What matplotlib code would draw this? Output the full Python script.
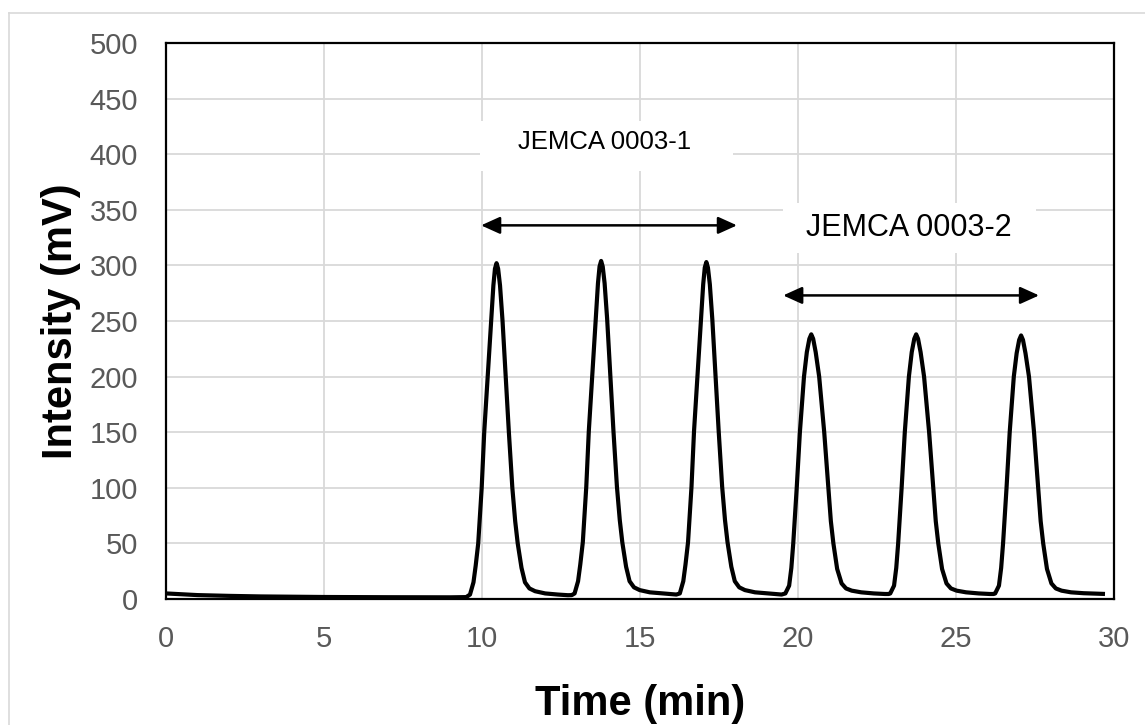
import matplotlib
matplotlib.use("Agg")
import matplotlib.pyplot as plt
from matplotlib.patches import Rectangle
from matplotlib.lines import Line2D

plt.rcParams['font.family'] = ['Liberation Sans', 'DejaVu Sans']

# chromatogram: time (min), intensity (mV)
time = [0.0, 0.5, 1.0, 2.0, 3.0, 5.0, 7.0, 9.0, 9.5,
	# peak 1
	9.62, 9.73, 9.80, 9.88, 9.99, 10.07, 10.18, 10.29, 10.36, 10.41, 10.46, 10.51, 10.57, 10.65,
	10.75, 10.85, 10.96, 11.05, 11.13, 11.25, 11.36, 11.50, 11.68, 12.00, 12.40, 12.72, 12.84,
	# peak 2
	12.93, 13.04, 13.11, 13.19, 13.30, 13.38, 13.49, 13.60, 13.67, 13.72, 13.77, 13.82, 13.88, 13.96,
	14.06, 14.16, 14.27, 14.36, 14.44, 14.56, 14.67, 14.81, 14.99, 15.31, 15.71, 16.03, 16.15,
	# peak 3
	16.26, 16.37, 16.44, 16.52, 16.63, 16.71, 16.82, 16.93, 17.00, 17.05, 17.10, 17.15, 17.21, 17.29,
	17.39, 17.49, 17.60, 17.69, 17.77, 17.89, 18.00, 18.14, 18.32, 18.64, 19.04, 19.36, 19.48,
	# peak 4
	19.60, 19.72, 19.79, 19.85, 19.96, 20.06, 20.19, 20.28, 20.36, 20.42, 20.48, 20.56, 20.67,
	20.83, 20.96, 21.04, 21.12, 21.24, 21.38, 21.52, 21.70, 22.00, 22.40, 22.75, 22.87,
	# peak 5
	22.92, 23.04, 23.11, 23.17, 23.28, 23.38, 23.51, 23.60, 23.68, 23.74, 23.80, 23.88, 23.99,
	24.15, 24.28, 24.36, 24.44, 24.56, 24.70, 24.84, 25.02, 25.32, 25.72, 26.07, 26.19,
	# peak 6
	26.24, 26.36, 26.43, 26.49, 26.60, 26.70, 26.83, 26.92, 27.00, 27.06, 27.12, 27.20, 27.31,
	27.47, 27.60, 27.68, 27.76, 27.88, 28.02, 28.16, 28.34, 28.64, 29.04, 29.40, 29.65]

intensity = [5.0, 4.2, 3.5, 2.8, 2.3, 1.8, 1.6, 1.5, 1.7,
	4, 15, 30, 50, 100, 150, 200, 250, 282, 297, 302, 297, 282, 250,
	200, 150, 100, 70, 50, 28, 15, 9.5, 7, 5, 4, 3.4, 3.5,
	5, 16, 31, 51, 101, 151, 201, 251, 284, 299, 304, 299, 284, 252,
	202, 151, 101, 71, 51, 29, 16, 10.5, 8, 6, 5, 4.2, 4,
	5, 16, 31, 51, 101, 151, 201, 251, 283, 298, 303, 298, 283, 251,
	201, 151, 101, 71, 51, 29, 16, 10.5, 8, 6, 5, 4.2, 4,
	5, 12, 28, 50, 100, 150, 200, 222, 234, 238, 234, 222, 200,
	150, 100, 70, 50, 27, 14, 9.5, 7.5, 6, 5, 4.5, 4.5,
	5, 12, 28, 50, 100, 150, 200, 222, 234, 238, 234, 222, 200,
	150, 100, 70, 50, 27, 14, 9.5, 7.5, 6, 5, 4.5, 4.5,
	5, 12, 28, 50, 100, 150, 200, 221, 233, 237, 233, 221, 200,
	150, 100, 70, 50, 27, 14, 9.5, 7.5, 6, 5.2, 4.8, 4.6]

xticks = [0, 5, 10, 15, 20, 25, 30]
yticks = [0, 50, 100, 150, 200, 250, 300, 350, 400, 450, 500]
labels = ["JEMCA 0003-1", "JEMCA 0003-2"]
ranges = [(9.97, 18.07, 336), (19.53, 27.63, 273)]

fig = plt.figure(figsize=(11.45, 7.25), dpi=100)
ax = fig.add_axes([0.145, 0.1738, 0.8279, 0.7669])

# outer chart border (only left/top visible)
fig.add_artist(Line2D([9/1145, 9/1145], [1 - 13/725, -0.1], color="#d9d9d9", lw=1.2))
fig.add_artist(Line2D([9/1145, 1.1], [1 - 13/725, 1 - 13/725], color="#d9d9d9", lw=1.2))

ax.plot(time, intensity, color="black", lw=3.0, solid_joinstyle="round", zorder=4)

ax.set_xlim(0, 30)
ax.set_ylim(0, 500)
ax.set_xticks(xticks)
ax.set_yticks(yticks)
ax.grid(True, color="#d9d9d9", lw=1.3, zorder=0)
ax.set_axisbelow(True)
ax.tick_params(length=0, labelsize=21, labelcolor="#595959")
ax.tick_params(axis="x", pad=19)
ax.tick_params(axis="y", pad=20)
for s in ax.spines.values():
	s.set_linewidth(1.6)
	s.set_color("black")

ax.set_xlabel("Time (min)", fontsize=30, fontweight="bold", labelpad=22)
ax.set_ylabel("Intensity (mV)", fontsize=30, fontweight="bold", labelpad=6)

# white label boxes hiding the grid
ax.add_patch(Rectangle((9.94, 385), 8.0, 45, facecolor="white", edgecolor="none", zorder=2))
ax.add_patch(Rectangle((19.53, 311), 8.0, 45, facecolor="white", edgecolor="none", zorder=2))
ax.text(13.89, 411, labels[0], fontsize=18.5, ha="center", va="center", zorder=5)
ax.text(23.5, 334, labels[1], fontsize=22, ha="center", va="center", zorder=5)

for x0, x1, y in ranges:
	ax.annotate("", xy=(x1, y), xytext=(x0, y),
		arrowprops=dict(arrowstyle="<|-|>,head_length=1.15,head_width=0.52", color="black",
			lw=1.8, shrinkA=0, shrinkB=0), zorder=5)

fig.savefig("out.png", dpi=100)
